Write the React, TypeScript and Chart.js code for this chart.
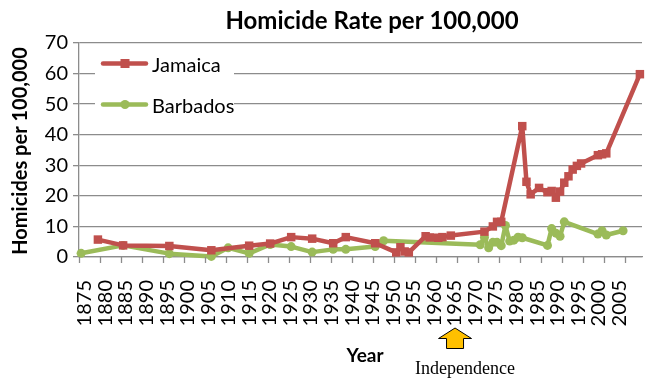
import React, { useEffect, useRef } from "react";
import { Chart, registerables } from "chart.js";

Chart.register(...registerables);

const chartTitle = "Homicide Rate per 100,000";
const yAxisTitle = "Homicides per 100,000";
const xAxisTitle = "Year";
const annotationText = "Independence";
const annotationYear = 1964;

const seriesNames = ["Jamaica", "Barbados"];
const seriesColors = ["#C0504D", "#9BBB59"];

const jamaicaYears = [1879, 1885, 1896, 1906, 1915, 1920, 1925, 1930, 1935, 1938, 1945, 1950, 1951, 1952, 1953, 1957, 1958, 1960, 1961, 1963, 1971, 1973, 1974, 1975, 1980, 1981, 1982, 1984, 1986, 1987, 1988, 1989, 1990, 1991, 1992, 1993, 1994, 1998, 1999, 2000, 2008];
const jamaicaRates = [5.7, 3.8, 3.6, 2.2, 3.7, 4.4, 6.5, 6.0, 4.5, 6.5, 4.5, 1.5, 3.2, 1.8, 1.5, 6.8, 6.4, 6.3, 6.5, 7.0, 8.3, 10.0, 11.5, 11.5, 42.8, 24.6, 20.5, 22.6, 21.2, 21.6, 19.4, 21.4, 24.3, 26.4, 28.6, 29.8, 30.6, 33.3, 33.6, 33.9, 59.8];

const barbadosYears = [1875, 1885, 1896, 1906, 1910, 1915, 1920, 1925, 1930, 1935, 1938, 1945, 1947, 1970, 1971, 1972, 1973, 1974, 1975, 1976, 1977, 1978, 1979, 1980, 1986, 1987, 1988, 1989, 1990, 1998, 1999, 2000, 2004];
const barbadosRates = [1.2, 3.8, 1.1, 0.2, 3.0, 1.2, 4.1, 3.4, 1.6, 2.5, 2.5, 3.4, 5.3, 4.0, 6.4, 3.0, 4.8, 4.8, 3.7, 10.3, 5.2, 5.5, 6.5, 6.3, 3.8, 9.3, 7.8, 6.8, 11.5, 7.5, 8.6, 7.2, 8.6];

const xLabelYears = [1875, 1880, 1885, 1890, 1895, 1900, 1905, 1910, 1915, 1920, 1925, 1930, 1935, 1940, 1945, 1950, 1955, 1960, 1965, 1970, 1975, 1980, 1985, 1990, 1995, 2000, 2005];
const yTickValues = [0, 10, 20, 30, 40, 50, 60, 70];

const X_MIN = 1874.5;
const X_MAX = 2008.5;
// Excel spaces the rotated year labels slightly tighter than the tick marks
const LABEL_OFFSET = 0.9;
const LABEL_DRIFT = 0.0215;

const GRID = "#8c8c8c";
const FONT = "Lato";

const decorPlugin = {
  id: "decor",
  afterDraw(chart: any) {
    const { ctx, chartArea } = chart;
    const x = chart.scales.x;
    ctx.save();

    // x tick marks at year-bin edges
    ctx.strokeStyle = GRID;
    ctx.lineWidth = 1.3;
    xLabelYears.forEach((yr) => {
      const px = Math.round(x.getPixelForValue(yr - 0.5)) + 0.5;
      ctx.beginPath();
      ctx.moveTo(px, chartArea.bottom);
      ctx.lineTo(px, chartArea.bottom + 6);
      ctx.stroke();
    });

    // title
    ctx.fillStyle = "#000";
    ctx.textAlign = "center";
    ctx.textBaseline = "alphabetic";
    ctx.font = `bold 24px ${FONT}`;
    ctx.fillText(chartTitle, 372, 29);

    // y title
    ctx.save();
    ctx.translate(21, (chartArea.top + chartArea.bottom) / 2 + 1);
    ctx.rotate(-Math.PI / 2);
    ctx.font = `bold 20px ${FONT}`;
    ctx.textBaseline = "middle";
    ctx.fillText(yAxisTitle, 0, 0);
    ctx.restore();

    // x title
    ctx.font = `bold 19px ${FONT}`;
    ctx.fillText(xAxisTitle, 365, 362);

    // annotation arrow
    const ax = x.getPixelForValue(annotationYear);
    ctx.beginPath();
    ctx.moveTo(ax, 328);
    ctx.lineTo(ax + 16.5, 338.5);
    ctx.lineTo(ax + 8.5, 338.5);
    ctx.lineTo(ax + 8.5, 348.5);
    ctx.lineTo(ax - 8.5, 348.5);
    ctx.lineTo(ax - 8.5, 338.5);
    ctx.lineTo(ax - 16.5, 338.5);
    ctx.closePath();
    ctx.fillStyle = "#FFC000";
    ctx.fill();
    ctx.strokeStyle = "#000";
    ctx.lineWidth = 1;
    ctx.stroke();

    ctx.fillStyle = "#000";
    ctx.font = `18px "Liberation Serif"`;
    ctx.fillText(annotationText, ax + 10, 374);

    // legend
    ctx.fillStyle = "#fff";
    ctx.fillRect(95, 47, 139, 71);
    chart.data.datasets.forEach((ds: any, i: number) => {
      const ly = 63.5 + i * 41;
      ctx.strokeStyle = ds.borderColor;
      ctx.lineWidth = 4.5;
      ctx.lineCap = "round";
      ctx.beginPath();
      ctx.moveTo(103, ly);
      ctx.lineTo(146, ly);
      ctx.stroke();
      ctx.fillStyle = ds.borderColor;
      if (ds.pointStyle === "rect") {
        ctx.fillRect(125 - 4.5, ly - 4.5, 9, 9);
      } else {
        ctx.beginPath();
        ctx.arc(125, ly, 4.5, 0, Math.PI * 2);
        ctx.fill();
      }
      ctx.fillStyle = "#000";
      ctx.textAlign = "left";
      ctx.font = `20px ${FONT}`;
      ctx.fillText(ds.label, 152, ly + 8);
    });

    ctx.restore();
  },
};

export default function App() {
  const canvasRef = useRef<HTMLCanvasElement>(null);

  useEffect(() => {
    const canvas = canvasRef.current;
    if (!canvas) return;
    const makeData = (years: number[], vals: number[]) => years.map((yr, i) => ({ x: yr, y: vals[i] }));
    const chart = new Chart(canvas, {
      type: "line",
      data: {
        datasets: [
          {
            label: seriesNames[0],
            data: makeData(jamaicaYears, jamaicaRates),
            borderColor: seriesColors[0],
            backgroundColor: seriesColors[0],
            borderWidth: 4.5,
            pointStyle: "rect",
            pointRadius: 6,
            pointBorderWidth: 0,
            tension: 0,
            clip: false as any,
            borderJoinStyle: "round",
          },
          {
            label: seriesNames[1],
            data: makeData(barbadosYears, barbadosRates),
            borderColor: seriesColors[1],
            backgroundColor: seriesColors[1],
            borderWidth: 4.5,
            pointStyle: "circle",
            pointRadius: 4.5,
            pointBorderWidth: 0,
            tension: 0,
            clip: false as any,
            borderJoinStyle: "round",
          },
        ],
      },
      options: {
        responsive: false,
        animation: false,
        events: [],
        layout: { padding: { top: 43, left: 0, right: 0, bottom: 0 } },
        plugins: {
          legend: { display: false },
          title: { display: false },
          tooltip: { enabled: false },
        },
        scales: {
          x: {
            type: "linear",
            min: X_MIN,
            max: X_MAX,
            afterBuildTicks: (axis: any) => {
              axis.ticks = xLabelYears.map((yr) => ({
                value: yr + LABEL_OFFSET - (yr - xLabelYears[0]) * LABEL_DRIFT,
              }));
            },
            afterFit: (axis: any) => {
              axis.height = 121;
              axis.paddingLeft = 0;
              axis.paddingRight = 0;
            },
            grid: { display: false },
            border: { display: true, color: GRID, width: 1.3 },
            ticks: {
              autoSkip: false,
              minRotation: 90,
              maxRotation: 90,
              padding: 15,
              color: "#000",
              font: { family: FONT, size: 20 },
              callback: (_v: any, i: number) => String(xLabelYears[i]),
            },
          },
          y: {
            min: 0,
            max: 70,
            afterBuildTicks: (axis: any) => {
              axis.ticks = yTickValues.map((v) => ({ value: v }));
            },
            afterFit: (axis: any) => {
              axis.width = 79;
              axis.paddingTop = 0;
              axis.paddingBottom = 0;
            },
            grid: { color: GRID, lineWidth: 1.3, tickLength: 6 },
            border: { display: true, color: GRID, width: 1.3 },
            ticks: {
              padding: 5,
              color: "#000",
              font: { family: FONT, size: 20 },
            },
          },
        },
      },
      plugins: [decorPlugin],
    });
    return () => chart.destroy();
  }, []);

  return (
    <div style={{ position: "fixed", left: 0, top: 0, width: 648, height: 378, background: "#fff" }}>
      <canvas ref={canvasRef} width={648} height={378} style={{ display: "block" }} />
    </div>
  );
}
